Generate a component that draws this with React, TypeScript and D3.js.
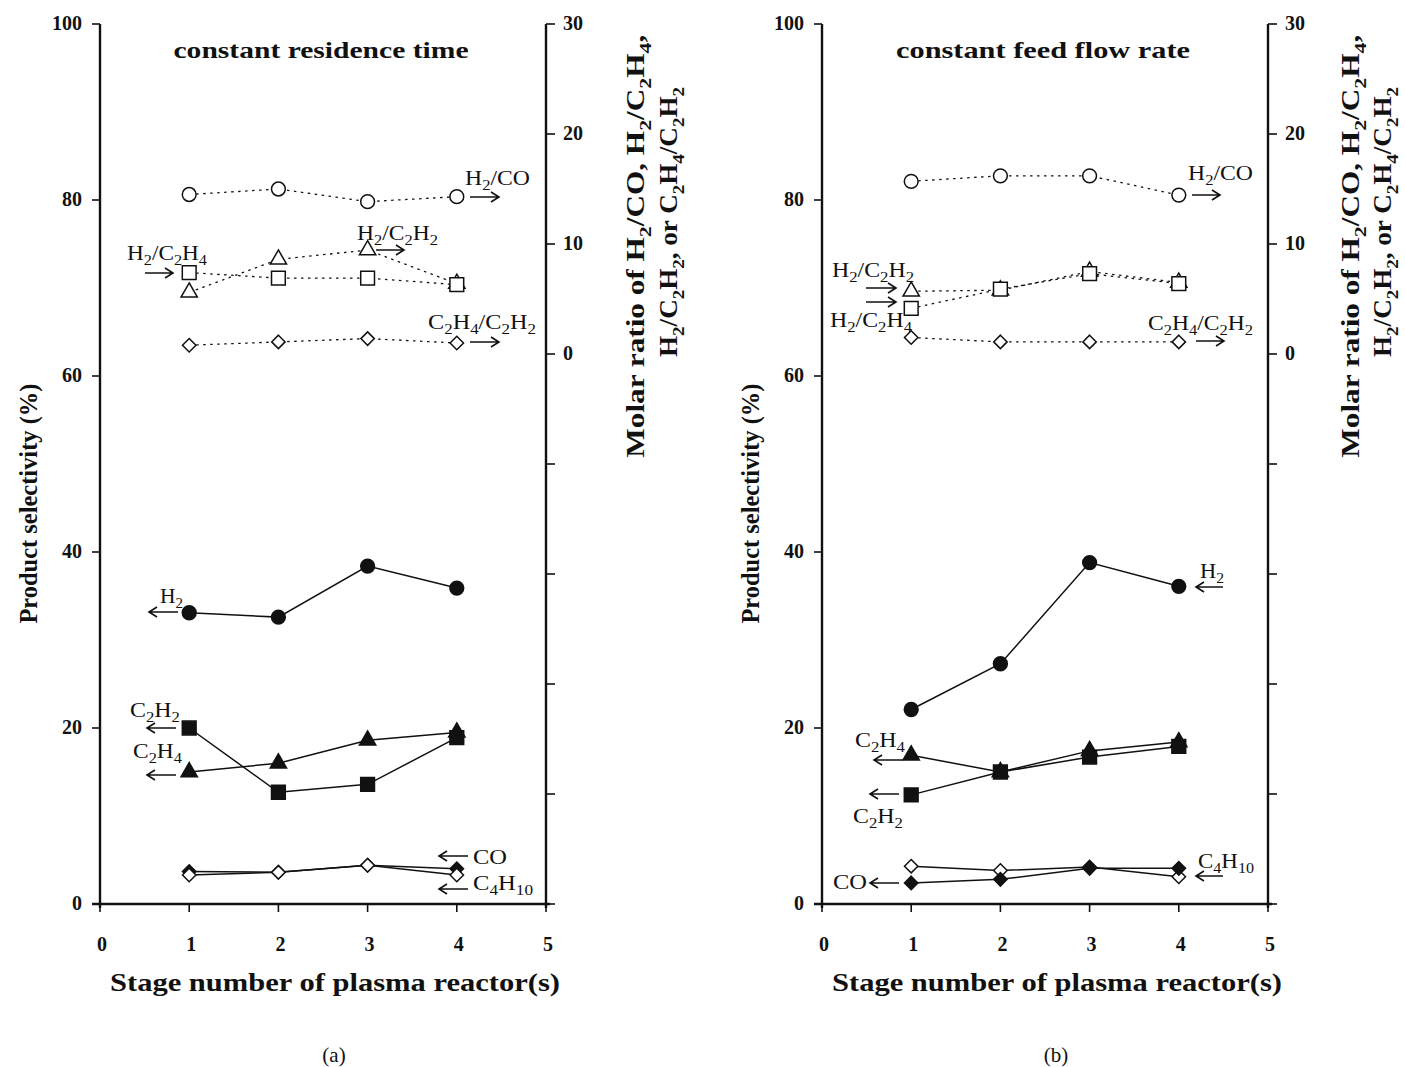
import React from 'react';
import * as d3 from 'd3';

// stage numbers on the x axis
const stages = [1, 2, 3, 4];
const xTicks = [0, 1, 2, 3, 4, 5];
const leftTicks = [0, 20, 40, 60, 80, 100];
const rightTicks = [-50, -40, -30, -20, -10, 0, 10, 20, 30];
const rightTickLabels = [0, 10, 20, 30];

// (a) constant residence time — product selectivity (%)
const aH2 = [33.1, 32.6, 38.4, 35.9];
const aC2H2 = [20.0, 12.7, 13.6, 18.9];
const aC2H4 = [15.0, 16.0, 18.6, 19.5];
const aCO = [3.7, 3.6, 4.4, 4.0];
const aC4H10 = [3.3, 3.6, 4.4, 3.3];
// (a) molar ratios
const aH2CO = [14.5, 15.0, 13.85, 14.3];
const aH2C2H4 = [7.4, 6.9, 6.9, 6.3];
const aH2C2H2 = [5.6, 8.6, 9.45, 6.4];
const aC2H4C2H2 = [0.8, 1.1, 1.4, 1.0];

// (b) constant feed flow rate — product selectivity (%)
const bH2 = [22.1, 27.3, 38.8, 36.1];
const bC2H4 = [16.9, 15.0, 17.4, 18.4];
const bC2H2 = [12.4, 15.0, 16.7, 17.9];
const bC4H10 = [4.3, 3.8, 4.2, 3.1];
const bCO = [2.4, 2.8, 4.05, 4.05];
// (b) molar ratios
const bH2CO = [15.7, 16.2, 16.2, 14.45];
const bH2C2H2 = [5.7, 5.8, 7.5, 6.5];
const bH2C2H4 = [4.15, 5.9, 7.3, 6.4];
const bC2H4C2H2 = [1.5, 1.1, 1.1, 1.1];

const FONT = '"Liberation Serif", "Times New Roman", serif';

// chemical formula text: digits become subscripts
const Chem = ({ text, x = 0, y = 0, size = 21, anchor = 'start', weight = 'normal', transform, len }: any) => {
  const parts = text.split(/(\d+)/).filter((p: string) => p.length);
  const shift = size * 0.26;
  let down = false;
  return (
    <text x={x} y={y} fontFamily={FONT} fontSize={size} fontWeight={weight}
      textAnchor={anchor} transform={transform} fill="#111"
      textLength={len} lengthAdjust={len ? 'spacingAndGlyphs' : undefined}>
      {parts.map((p: string, i: number) => {
        const isNum = /^\d+$/.test(p);
        let dy = 0;
        if (isNum && !down) { dy = shift; down = true; }
        else if (!isNum && down) { dy = -shift; down = false; }
        return (
          <tspan key={i} dy={dy} fontSize={isNum ? size * 0.7 : size}>{p}</tspan>
        );
      })}
    </text>
  );
};

const Arrow = ({ x1, x2, y }: any) => {
  const dir = x2 > x1 ? 1 : -1;
  const d = `M${x1},${y}L${x2},${y}M${x2 - dir * 8},${y - 5}L${x2},${y}L${x2 - dir * 8},${y + 5}`;
  return <path d={d} fill="none" stroke="#111" strokeWidth={1.6} />;
};

const shapes: any = {
  circle: { type: d3.symbolCircle, size: 150 },
  square: { type: d3.symbolSquare, size: 190 },
  triangle: { type: d3.symbolTriangle, size: 115 },
  diamond: { type: d3.symbolDiamond2, size: 115 },
};

const Panel = ({ x0, x1, title, titleLen, label, pct, ratio, notes, r1, r2 }: any) => {
  const y0 = 24, y1 = 904;
  const x = d3.scaleLinear().domain([0, 5]).range([x0, x1]);
  const yL = d3.scaleLinear().domain([0, 100]).range([y1, y0]);
  const yR = d3.scaleLinear().domain([-50, 30]).range([y1, y0]);

  const series = (list: any[], y: any, dashed: boolean) =>
    list.map((s, k) => {
      const line = d3.line<number>().x((_, i) => x(stages[i])).y(v => y(v));
      const sym = d3.symbol().type(shapes[s.shape].type).size(shapes[s.shape].size);
      return (
        <g key={k}>
          <path d={line(s.values) || ''} fill="none" stroke="#111"
            strokeWidth={dashed ? 1.3 : 1.5} strokeDasharray={dashed ? '2.5,4.5' : undefined} />
          {s.values.map((v: number, i: number) => (
            <path key={i} d={sym() || ''} transform={`translate(${x(stages[i])},${y(v)})`}
              fill={s.filled ? '#111' : '#fff'} stroke="#111" strokeWidth={1.5} />
          ))}
        </g>
      );
    });

  return (
    <g>
      {/* axes */}
      <line x1={x0} x2={x0} y1={y0} y2={y1 + 4} stroke="#111" strokeWidth={2.4} />
      <line x1={x1} x2={x1} y1={y0} y2={y1 + 4} stroke="#111" strokeWidth={2.4} />
      <line x1={x0 - 8} x2={x1 + 4} y1={y1} y2={y1} stroke="#111" strokeWidth={2.4} />
      {leftTicks.map(t => (
        <g key={t}>
          <line x1={x0 - 8} x2={x0} y1={yL(t)} y2={yL(t)} stroke="#111" strokeWidth={1.6} />
          <text x={x0 - 18} y={yL(t) + 6} textAnchor="end" fontFamily={FONT} fontSize={20}
            fontWeight="bold" fill="#111">{t}</text>
        </g>
      ))}
      {rightTicks.map(t => (
        <line key={t} x1={x1} x2={x1 + 9} y1={yR(t)} y2={yR(t)} stroke="#111" strokeWidth={1.6} />
      ))}
      {rightTickLabels.map(t => (
        <text key={t} x={x1 + 17} y={yR(t) + 6} fontFamily={FONT} fontSize={20}
          fontWeight="bold" fill="#111">{t}</text>
      ))}
      {xTicks.map(t => (
        <g key={t}>
          <line x1={x(t)} x2={x(t)} y1={y1} y2={y1 + 8} stroke="#111" strokeWidth={1.6} />
          <text x={x(t) + 2} y={y1 + 47} textAnchor="middle" fontFamily={FONT} fontSize={20}
            fontWeight="bold" fill="#111">{t}</text>
        </g>
      ))}

      {/* axis titles */}
      <text transform={`translate(${x0 - 63},${yL(45.5)}) rotate(-90)`} textAnchor="middle"
        fontFamily={FONT} fontSize={25} fontWeight="bold" fill="#111"
        textLength={240} lengthAdjust="spacingAndGlyphs">Product selectivity (%)</text>
      <Chem text="Molar ratio of H2/CO, H2/C2H4," size={25} weight="bold" anchor="middle" len={423}
        transform={`translate(${x1 + r1},${yR(9.8)}) rotate(-90)`} />
      <Chem text="H2/C2H2, or C2H4/C2H2" size={25} weight="bold" anchor="middle" len={270}
        transform={`translate(${x1 + r2},${yR(12)}) rotate(-90)`} />
      <text x={(x0 + x1) / 2 + 12} y={y1 + 87} textAnchor="middle" fontFamily={FONT}
        fontSize={25} fontWeight="bold" fill="#111" textLength={450}
        lengthAdjust="spacingAndGlyphs">Stage number of plasma reactor(s)</text>
      <text x={(x0 + x1) / 2 + 11} y={y1 + 158} textAnchor="middle" fontFamily={FONT}
        fontSize={21} fill="#111">{label}</text>
      <text x={(x0 + x1) / 2 - 2} y={58} textAnchor="middle" fontFamily={FONT}
        fontSize={23} fontWeight="bold" fill="#111" textLength={titleLen}
        lengthAdjust="spacingAndGlyphs">{title}</text>

      {series(ratio, yR, true)}
      {series(pct, yL, false)}

      {notes.map((n: any, i: number) => (
        <g key={i}>
          {n.text && <Chem text={n.text} x={n.tx} y={n.ty} size={21} len={n.len} />}
          {n.arrows.map((a: any, j: number) => <Arrow key={j} x1={a[0]} x2={a[1]} y={a[2]} />)}
        </g>
      ))}
    </g>
  );
};

const notesA = [
  { text: 'H2/CO', tx: 465, ty: 185, len: 65, arrows: [[470, 499, 197]] },
  { text: 'H2/C2H4', tx: 127, ty: 260, len: 80, arrows: [[145, 173, 273]] },
  { text: 'H2/C2H2', tx: 357, ty: 240, len: 81, arrows: [[376, 404, 250]] },
  { text: 'C2H4/C2H2', tx: 428, ty: 329, len: 108, arrows: [[470, 499, 342]] },
  { text: 'H2', tx: 160, ty: 603, len: 23, arrows: [[178, 149, 612]] },
  { text: 'C2H2', tx: 130, ty: 717, len: 50, arrows: [[176, 147, 728]] },
  { text: 'C2H4', tx: 133, ty: 758, len: 49, arrows: [[176, 147, 775]] },
  { text: 'CO', tx: 473, ty: 864, len: 34, arrows: [[468, 439, 856]] },
  { text: 'C4H10', tx: 473, ty: 890, len: 60, arrows: [[468, 439, 889]] },
];

const notesB = [
  { text: 'H2/CO', tx: 1188, ty: 180, len: 65, arrows: [[1192, 1220, 195]] },
  { text: 'H2/C2H2', tx: 832, ty: 277, len: 82, arrows: [[866, 896, 288], [866, 896, 302]] },
  { text: 'H2/C2H4', tx: 830, ty: 327, len: 82, arrows: [] },
  { text: 'C2H4/C2H2', tx: 1148, ty: 330, len: 105, arrows: [[1196, 1224, 341]] },
  { text: 'H2', tx: 1200, ty: 578, len: 24, arrows: [[1223, 1196, 587]] },
  { text: 'C2H4', tx: 855, ty: 747, len: 50, arrows: [[903, 874, 760]] },
  { text: 'C2H2', tx: 853, ty: 823, len: 50, arrows: [[899, 870, 794]] },
  { text: 'CO', tx: 833, ty: 889, len: 34, arrows: [[899, 870, 883]] },
  { text: 'C4H10', tx: 1198, ty: 868, len: 56, arrows: [[1223, 1196, 876]] },
];

export default function App() {
  const pctA = [
    { values: aH2, shape: 'circle', filled: true },
    { values: aC2H4, shape: 'triangle', filled: true },
    { values: aC2H2, shape: 'square', filled: true },
    { values: aCO, shape: 'diamond', filled: true },
    { values: aC4H10, shape: 'diamond', filled: false },
  ];
  // triangles first so the squares sit on top where they overlap
  const ratioA = [
    { values: aH2CO, shape: 'circle', filled: false },
    { values: aH2C2H2, shape: 'triangle', filled: false },
    { values: aH2C2H4, shape: 'square', filled: false },
    { values: aC2H4C2H2, shape: 'diamond', filled: false },
  ];
  const pctB = [
    { values: bH2, shape: 'circle', filled: true },
    { values: bC2H4, shape: 'triangle', filled: true },
    { values: bC2H2, shape: 'square', filled: true },
    { values: bC4H10, shape: 'diamond', filled: false },
    { values: bCO, shape: 'diamond', filled: true },
  ];
  const ratioB = [
    { values: bH2CO, shape: 'circle', filled: false },
    { values: bH2C2H2, shape: 'triangle', filled: false },
    { values: bH2C2H4, shape: 'square', filled: false },
    { values: bC2H4C2H2, shape: 'diamond', filled: false },
  ];
  return (
    <svg width={1405} height={1067} style={{ position: 'absolute', left: 0, top: 0, background: '#fff' }}>
      <rect width={1405} height={1067} fill="#fff" />
      <Panel x0={100} x1={546} title="constant residence time" titleLen={295} label="(a)"
        pct={pctA} ratio={ratioA} notes={notesA} r1={98} r2={131} />
      <Panel x0={822} x1={1268} title="constant feed flow rate" titleLen={294} label="(b)"
        pct={pctB} ratio={ratioB} notes={notesB} r1={91} r2={123} />
    </svg>
  );
}
